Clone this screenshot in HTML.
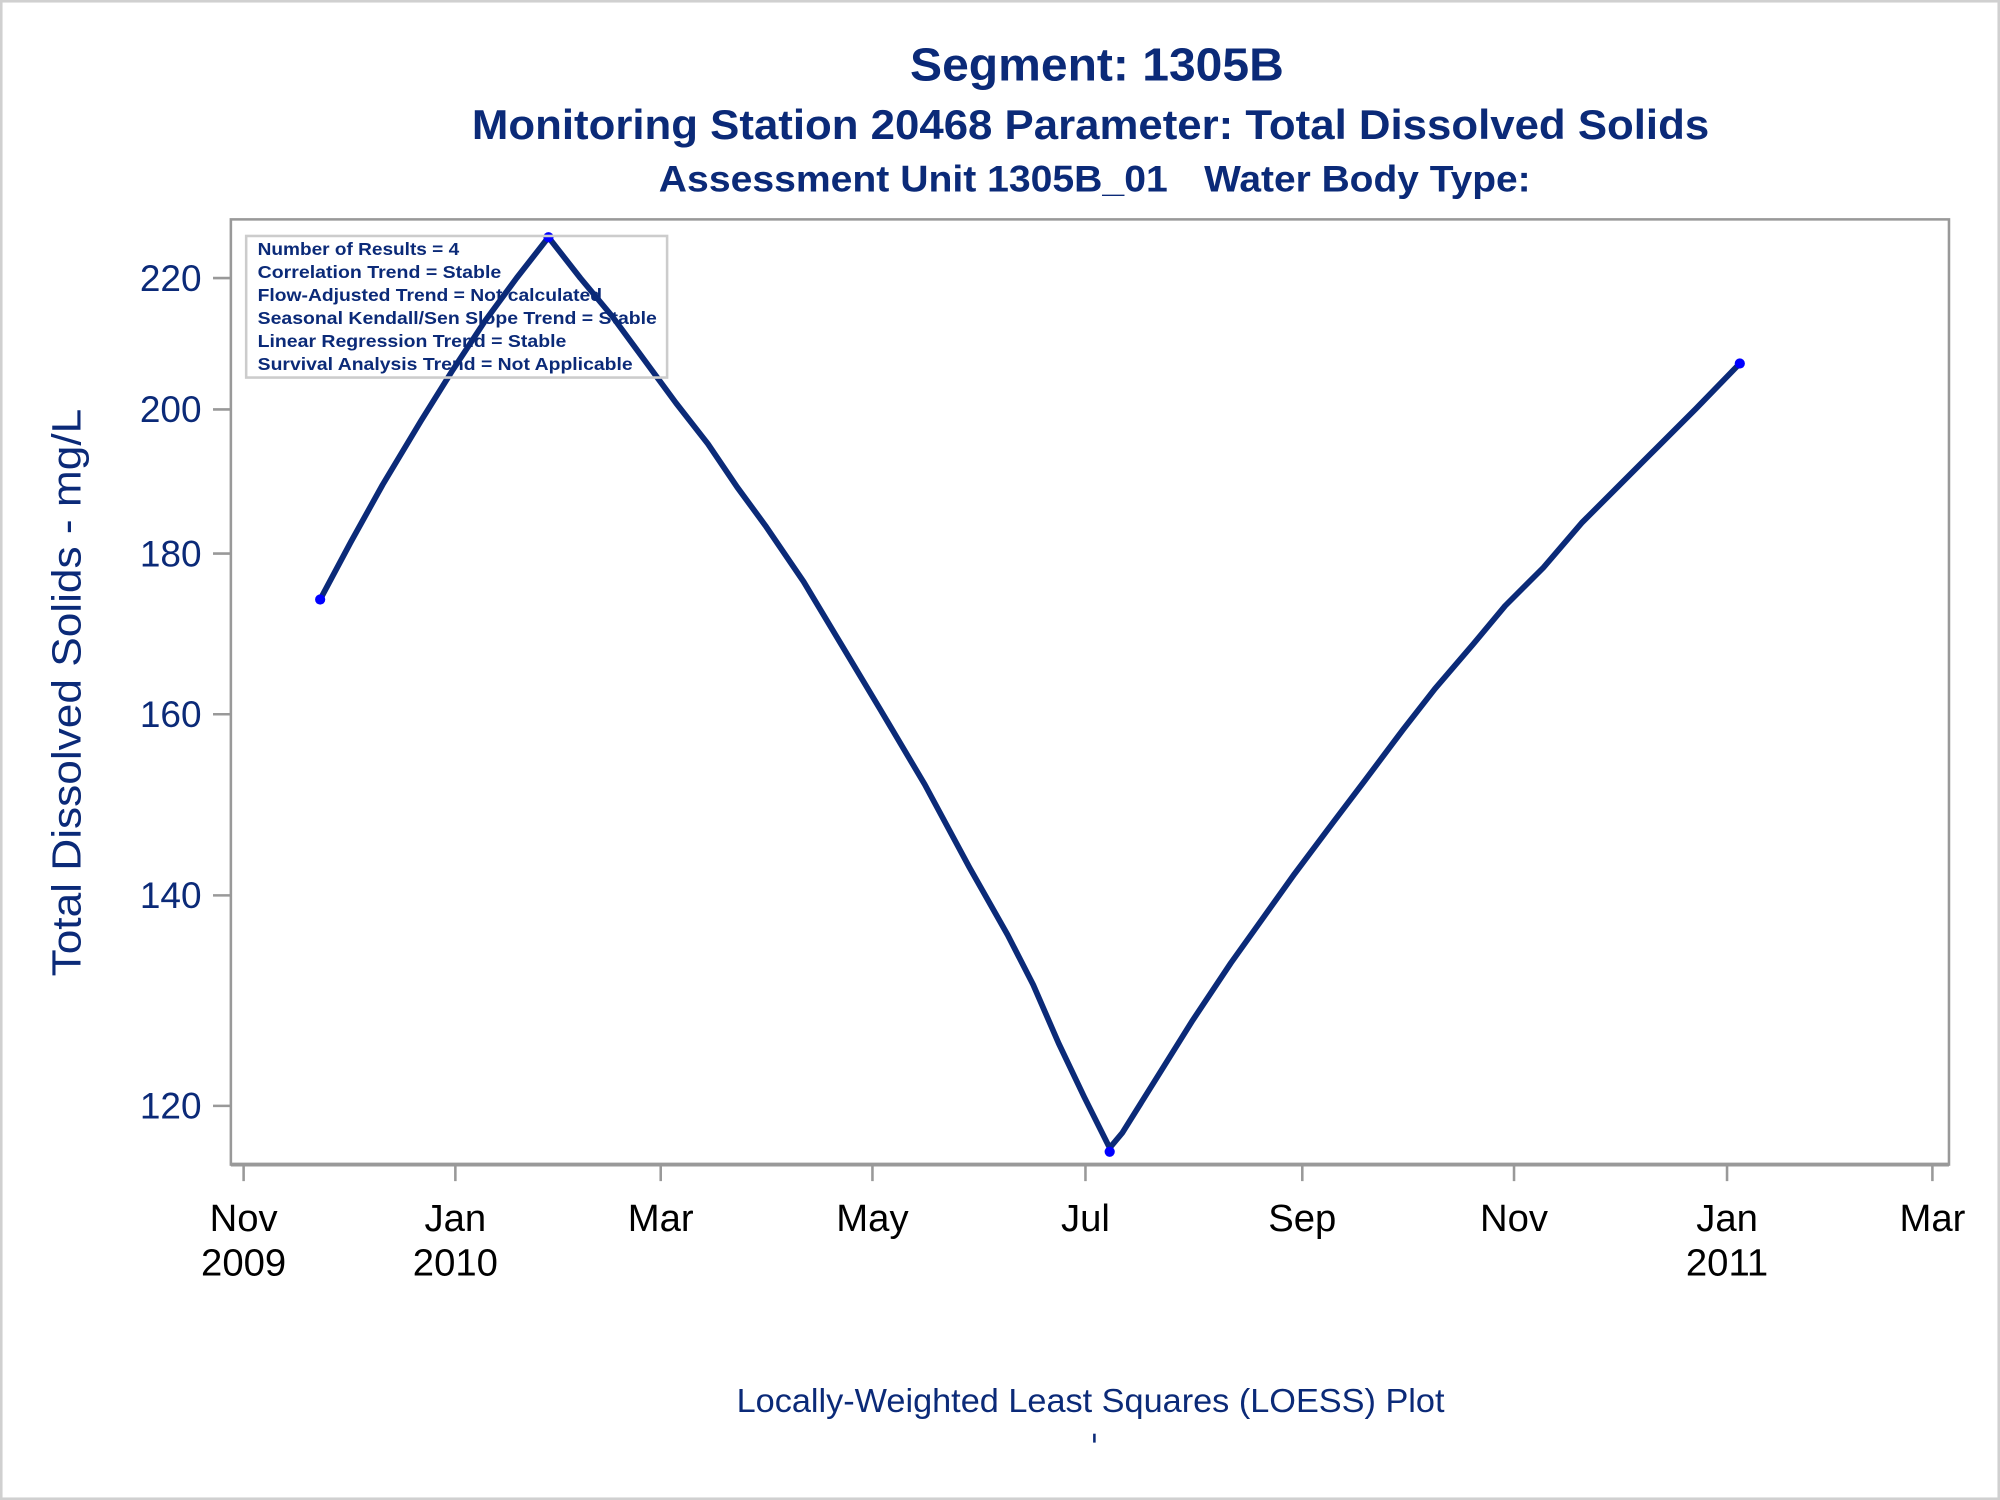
<!DOCTYPE html>
<html><head><meta charset="utf-8"><style>html,body{margin:0;padding:0;background:#fff}svg{display:block}</style></head>
<body>
<svg width="2000" height="1500" viewBox="0 0 1568 1176" xmlns="http://www.w3.org/2000/svg" font-family="Liberation Sans, sans-serif">
<rect x="1" y="1" width="1566" height="1174" fill="#fff" stroke="#d0d0d0" stroke-width="2"/>
<g fill="#0b2a78" font-weight="bold" text-anchor="middle">
<text x="860" y="63" font-size="36" textLength="293" lengthAdjust="spacingAndGlyphs">Segment: 1305B</text>
<text x="855" y="109" font-size="33" textLength="970" lengthAdjust="spacingAndGlyphs">Monitoring Station 20468 Parameter: Total Dissolved Solids</text>
<text x="716" y="150" font-size="29" textLength="399" lengthAdjust="spacingAndGlyphs">Assessment Unit 1305B_01</text>
<text x="1072" y="150" font-size="29" textLength="256" lengthAdjust="spacingAndGlyphs">Water Body Type:</text>
</g>
<rect x="181" y="172" width="1347" height="741" fill="none" stroke="#999" stroke-width="2"/>
<g stroke="#999" stroke-width="2">
<line x1="167" y1="218" x2="181" y2="218"/><line x1="167" y1="321" x2="181" y2="321"/>
<line x1="167" y1="434" x2="181" y2="434"/><line x1="167" y1="560" x2="181" y2="560"/>
<line x1="167" y1="702" x2="181" y2="702"/><line x1="167" y1="867" x2="181" y2="867"/>
<line x1="181" y1="913" x2="1528" y2="913" stroke-width="3"/>
<line x1="191" y1="913" x2="191" y2="926"/><line x1="357" y1="913" x2="357" y2="926"/>
<line x1="518" y1="913" x2="518" y2="926"/><line x1="684" y1="913" x2="684" y2="926"/>
<line x1="851" y1="913" x2="851" y2="926"/><line x1="1021" y1="913" x2="1021" y2="926"/>
<line x1="1187" y1="913" x2="1187" y2="926"/><line x1="1354" y1="913" x2="1354" y2="926"/>
<line x1="1515" y1="913" x2="1515" y2="926"/>
</g>
<g fill="#0b2a78" font-size="29" text-anchor="end">
<text x="158" y="228">220</text><text x="158" y="331">200</text><text x="158" y="444">180</text>
<text x="158" y="570">160</text><text x="158" y="712">140</text><text x="158" y="877">120</text>
</g>
<text transform="translate(63,543) rotate(-90)" fill="#0b2a78" font-size="32" text-anchor="middle" textLength="445" lengthAdjust="spacingAndGlyphs">Total Dissolved Solids - mg/L</text>
<g fill="#000" font-size="30" text-anchor="middle">
<text x="191" y="965">Nov</text><text x="357" y="965">Jan</text><text x="518" y="965">Mar</text>
<text x="684" y="965">May</text><text x="851" y="965">Jul</text><text x="1021" y="965">Sep</text>
<text x="1187" y="965">Nov</text><text x="1354" y="965">Jan</text><text x="1515" y="965">Mar</text>
<text x="191" y="1000">2009</text><text x="357" y="1000">2010</text><text x="1354" y="1000">2011</text>
</g>
<polyline fill="none" stroke="#0b2a78" stroke-width="4.5" stroke-linejoin="round" points="251,470 275,425 300,380 330,330 355,290 380,252 405,218 430,186 455,218 480,248 505,282 530,316 555,348 578,382 600,412 630,456 660,506 690,556 725,615 760,680 790,733 810,772 830,818 850,860 870,900 880,888 905,848 935,800 965,755 990,720 1015,685 1045,645 1070,612 1100,572 1125,540 1155,505 1180,475 1210,445 1240,410 1270,380 1300,350 1330,320 1364,285"/>
<g fill="#0000ff"><circle cx="251" cy="470" r="4"/><circle cx="430" cy="186" r="4"/><circle cx="870" cy="903" r="4"/><circle cx="1364" cy="285" r="4"/></g>
<rect x="193" y="185" width="330" height="111" fill="none" stroke="#ccc" stroke-width="2"/>
<g fill="#0b2a78" font-size="14" font-weight="bold">
<text x="202" y="200" textLength="158" lengthAdjust="spacingAndGlyphs">Number of Results = 4</text>
<text x="202" y="218" textLength="191" lengthAdjust="spacingAndGlyphs">Correlation Trend = Stable</text>
<text x="202" y="236" textLength="270" lengthAdjust="spacingAndGlyphs">Flow-Adjusted Trend = Not calculated</text>
<text x="202" y="254" textLength="313" lengthAdjust="spacingAndGlyphs">Seasonal Kendall/Sen Slope Trend = Stable</text>
<text x="202" y="272" textLength="242" lengthAdjust="spacingAndGlyphs">Linear Regression Trend = Stable</text>
<text x="202" y="290" textLength="294" lengthAdjust="spacingAndGlyphs">Survival Analysis Trend = Not Applicable</text>
</g>
<text x="855" y="1107" fill="#0b2a78" font-size="26" text-anchor="middle" textLength="555" lengthAdjust="spacingAndGlyphs">Locally-Weighted Least Squares (LOESS) Plot</text>
<line x1="858" y1="1124" x2="858" y2="1131" stroke="#0b2a78" stroke-width="2"/>
</svg>
</body></html>
